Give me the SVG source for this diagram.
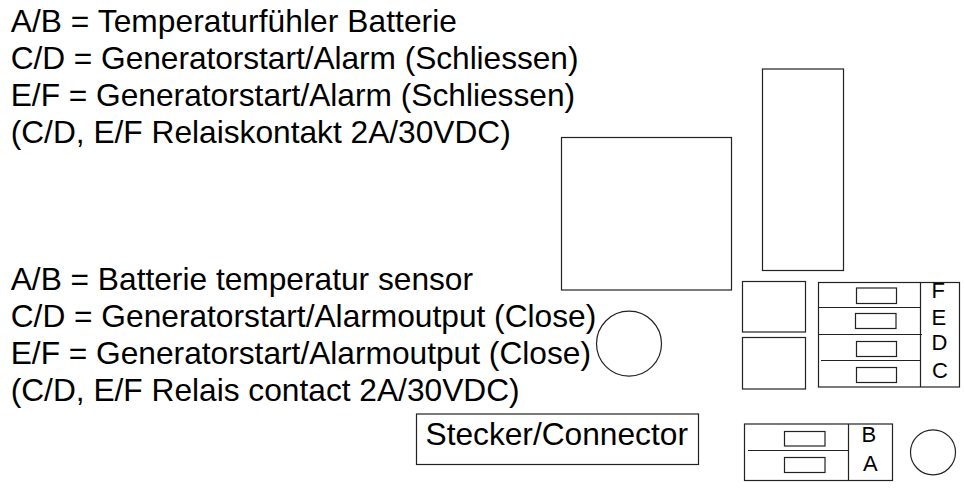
<svg xmlns="http://www.w3.org/2000/svg" width="965" height="500" viewBox="0 0 965 500">
<style>
rect,circle,.l{fill:none;stroke:#222;stroke-width:1.2}
text{font-family:"Liberation Sans",Arial,sans-serif;fill:#000}
.t{font-size:31.7px}
.s{font-size:22px}
</style>
<rect width="965" height="500" style="fill:#fff;stroke:none"/>
<g id="text-de" class="t">
<text x="10.7" y="32" letter-spacing="0.07">A/B = Temperaturfühler Batterie</text>
<text x="10.7" y="68.5" letter-spacing="-0.05">C/D = Generatorstart/Alarm (Schliessen)</text>
<text x="10.7" y="106">E/F = Generatorstart/Alarm (Schliessen)</text>
<text x="10.7" y="142.5">(C/D, E/F Relaiskontakt 2A/30VDC)</text>
</g>
<g id="text-en" class="t">
<text x="10.7" y="289.5">A/B = Batterie temperatur sensor</text>
<text x="10.7" y="326.5">C/D = Generatorstart/Alarmoutput (Close)</text>
<text x="10.7" y="364">E/F = Generatorstart/Alarmoutput (Close)</text>
<text x="10.7" y="400.5">(C/D, E/F Relais contact 2A/30VDC)</text>
</g>
<g id="connector-label"><rect x="416.5" y="414" width="282" height="50.5"/><text class="t" x="425.5" y="445">Stecker/Connector</text></g>
<g id="large-box"><rect x="561.5" y="137.5" width="170" height="152.5"/></g>
<g id="tall-box"><rect x="762.5" y="69" width="81" height="201.5"/></g>
<g id="small-box-1"><rect x="742.5" y="281.5" width="63" height="50.5"/></g>
<g id="small-box-2"><rect x="742.5" y="337.5" width="63" height="51.5"/></g>
<g id="round-1"><circle cx="629" cy="343.7" r="32.5"/></g>
<g id="round-2"><circle cx="933" cy="452.3" r="22.5"/></g>
<g id="terminal-cdef">
<rect x="818.5" y="282.5" width="141" height="104.5"/>
<path class="l" d="M920.5 282.5V387M818.5 307.5H920.5M818.5 334.5H922M821 360.5H920.5"/>
<rect x="856.5" y="288" width="40" height="15.5"/>
<rect x="855.5" y="313.5" width="40.5" height="15"/>
<rect x="856.5" y="341.5" width="40" height="15"/>
<rect x="856.5" y="367.5" width="40" height="15"/>
<text class="s" x="931.5" y="298">F</text>
<text class="s" x="931.5" y="325">E</text>
<text class="s" x="931.5" y="349.5">D</text>
<text class="s" x="932" y="377.5">C</text>
</g>
<g id="terminal-ab">
<rect x="744.5" y="424" width="148" height="56.5"/>
<path class="l" d="M848.5 424V480.5M748 450.5H848.5"/>
<rect x="784.5" y="431.5" width="40.5" height="14.5"/>
<rect x="784.5" y="457.5" width="40.5" height="15"/>
<text class="s" x="861.5" y="442">B</text>
<text class="s" x="863" y="471">A</text>
</g>
<g id="connectors"/>
</svg>
